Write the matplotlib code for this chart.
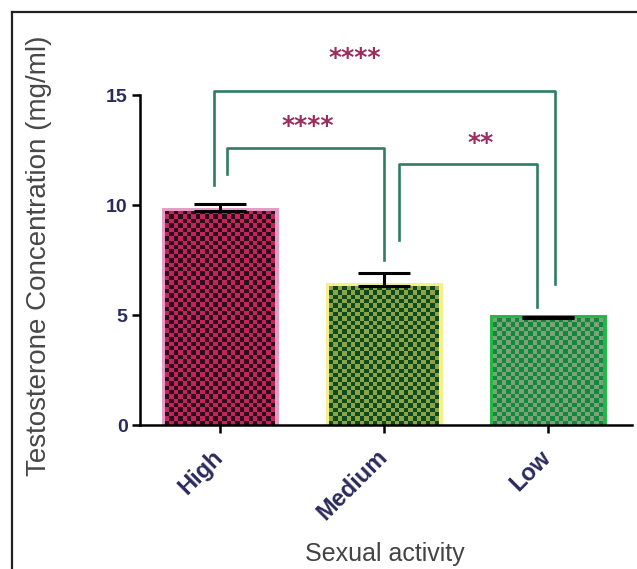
import numpy as np
import matplotlib
matplotlib.use('Agg')
import matplotlib.pyplot as plt
from matplotlib.lines import Line2D
from matplotlib.transforms import ScaledTranslation

# data
groups = ['High', 'Medium', 'Low']
means = [9.75, 6.3, 4.85]
sem = [0.3, 0.6, 0.05]

# light squares / dark squares / halo colour of each bar
light_cols = ['#c4245a', '#8ea443', '#7fa07a']
dark_cols = ['#2a0c1c', '#0b4a22', '#0f8a3c']
edge_cols = ['#e59cc4', '#f4f08a', '#22b845']

# significance brackets
br_x1 = [-0.04, 0.04, 1.09]
br_x2 = [2.04, 1.0, 1.93]
br_top = [15.2, 12.6, 11.85]
br_foot1 = [10.9, 11.4, 8.4]
br_foot2 = [6.4, 7.5, 5.35]
star_x = [0.82, 0.53, 1.59]
star_y = [16.7, 13.6, 12.8]
star_txt = ['****', '****', '**']

navy = '#2a2a5c'
teal = '#2e7d64'

fig = plt.figure(figsize=(6.37, 5.69), dpi=100)
ax = fig.add_axes([140/637, 1-425/569, 492/637, 385/569])

x = np.arange(len(groups))
bars = ax.bar(x, means, 0.67, color=light_cols, edgecolor=edge_cols, linewidth=5, zorder=1)

# checkerboard fill clipped to each bar
for b, lc, dc in zip(bars, light_cols, dark_cols):
    x0, y0, w, h = b.get_x(), b.get_y(), b.get_width(), b.get_height()
    nx = 25
    ny = max(1, int(round(h * 5)))
    ii, jj = np.indices((ny, nx))
    chk = (ii + jj) % 2
    img = np.zeros((ny, nx, 3))
    img[chk == 0] = matplotlib.colors.to_rgb(dc)
    img[chk == 1] = matplotlib.colors.to_rgb(lc)
    im = ax.imshow(img, extent=(x0, x0 + w, y0, y0 + h), aspect='auto',
                   interpolation='nearest', origin='lower', zorder=1.5)
    im.set_clip_path(b)

ax.errorbar(x, means, yerr=[np.zeros(len(sem)), sem], fmt='none', ecolor='black',
            elinewidth=2.2, capsize=19, capthick=2.2, zorder=3)

for a, b, t, f1, f2 in zip(br_x1, br_x2, br_top, br_foot1, br_foot2):
    ax.plot([a, a, b, b], [f1, t, t, f2], color=teal, lw=1.9, zorder=4)
for sx, sy, s in zip(star_x, star_y, star_txt):
    ax.text(sx, sy, s, ha='center', va='center', color='#9b2d5e',
            fontsize=18, fontweight='bold', family='DejaVu Sans')

ax.set_xlim(-0.49, 2.51)
ax.set_ylim(0, 17.5)
ax.set_yticks([0, 5, 10, 15])
ax.set_xticks(x)
ax.set_xticklabels(groups, rotation=45, ha='right', rotation_mode='anchor')

ax.spines['top'].set_visible(False)
ax.spines['right'].set_visible(False)
ax.spines['left'].set_bounds(0, 15)
for sp in ['left', 'bottom']:
    ax.spines[sp].set_linewidth(1.8)
ax.tick_params(axis='both', length=6, width=1.8, pad=3)

shift = ScaledTranslation(-9/100, -8/100, fig.dpi_scale_trans)
for lab in ax.get_xticklabels() + ax.get_yticklabels():
    lab.set_fontweight('bold')
    lab.set_color(navy)
    lab.set_family('Liberation Sans')
for lab in ax.get_xticklabels():
    lab.set_fontsize(17)
    lab.set_transform(lab.get_transform() + shift)
for lab in ax.get_yticklabels():
    lab.set_fontsize(14)

ax.set_ylabel('Testosterone Concentration (mg/ml)', fontsize=20, color='#474747',
              family='Liberation Sans')
ax.yaxis.set_label_coords(-0.179, 0.44)
ax.set_xlabel('Sexual activity', fontsize=18, color='#444444', family='Liberation Sans')
ax.xaxis.set_label_coords(0.498, -0.303)

# outer frame (cropped box)
fig.add_artist(Line2D([12/637, 12/637], [0, 1-12/569], color='#222222', lw=1.6))
fig.add_artist(Line2D([12/637, 1], [1-12/569, 1-12/569], color='#222222', lw=1.6))

fig.savefig('out.png', dpi=100)
